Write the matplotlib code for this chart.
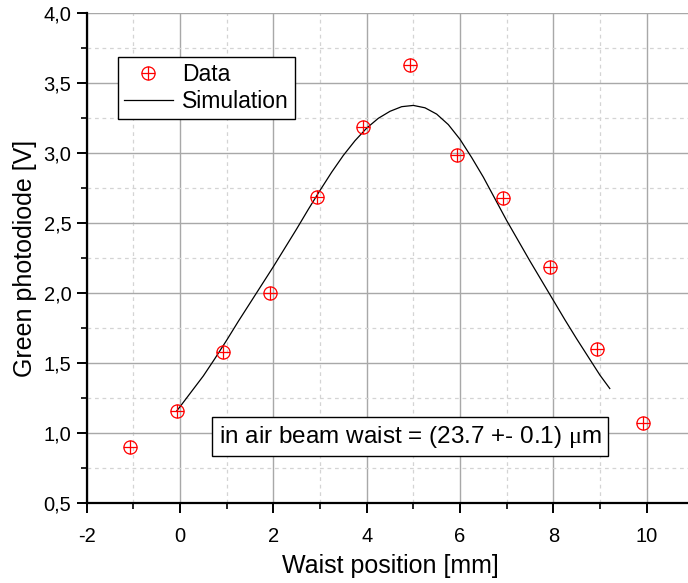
import matplotlib
matplotlib.use("Agg")
import matplotlib.pyplot as plt
from matplotlib.path import Path
from matplotlib.ticker import MultipleLocator, FuncFormatter

# Measured photodiode signal vs. waist position
data_x = [-1.07, -0.07, 0.93, 1.93, 2.93, 3.93, 4.93, 5.93, 6.93, 7.93, 8.93, 9.93]
data_y = [0.90, 1.16, 1.58, 2.00, 2.69, 3.19, 3.63, 2.99, 2.68, 2.19, 1.60, 1.07]

# Simulated curve, sampled along the waist position
sim_x = [-0.07, 0.00, 0.25, 0.50, 0.75, 1.00, 1.25, 1.50, 1.75, 2.00, 2.25, 2.50,
         2.75, 3.00, 3.25, 3.50, 3.75, 4.00, 4.25, 4.50, 4.75, 5.00, 5.25, 5.50,
         5.75, 6.00, 6.25, 6.50, 6.75, 7.00, 7.25, 7.50, 7.75, 8.00, 8.25, 8.50,
         8.75, 9.00, 9.21]
sim_y = [1.16, 1.19, 1.30, 1.41, 1.535, 1.665, 1.80, 1.93, 2.06, 2.19, 2.325, 2.46,
         2.60, 2.735, 2.865, 2.985, 3.09, 3.18, 3.25, 3.30, 3.333, 3.342, 3.325, 3.28,
         3.205, 3.10, 2.97, 2.83, 2.675, 2.52, 2.375, 2.23, 2.09, 1.95, 1.81, 1.675,
         1.545, 1.415, 1.32]

x_ticks = [-2, 0, 2, 4, 6, 8, 10]
y_ticks = [0.5, 1.0, 1.5, 2.0, 2.5, 3.0, 3.5, 4.0]

plt.rcParams["font.family"] = ["Liberation Sans", "DejaVu Sans"]
plt.rcParams["mathtext.fontset"] = "custom"
plt.rcParams["mathtext.rm"] = "Liberation Serif"

# circle with a cross inside
circ = Path.unit_circle()
cross = Path([(-1, 0), (1, 0), (0, -1), (0, 1)],
             [Path.MOVETO, Path.LINETO, Path.MOVETO, Path.LINETO])
circle_plus = Path.make_compound_path(circ, cross)

fig = plt.figure(figsize=(6.88, 5.83), dpi=100)
ax = fig.add_axes([86.7 / 688, (583 - 503.3) / 583, (693.3 - 86.7) / 688, (503.3 - 13.3) / 583])

ax.set_xlim(-2, 11)
ax.set_ylim(0.5, 4.0)
ax.xaxis.set_minor_locator(MultipleLocator(1))
ax.yaxis.set_minor_locator(MultipleLocator(0.25))
ax.set_xticks(x_ticks)
ax.set_yticks(y_ticks)
ax.xaxis.set_major_formatter(FuncFormatter(lambda v, p: f"{v:g}"))
ax.yaxis.set_major_formatter(FuncFormatter(lambda v, p: f"{v:.1f}".replace(".", ",")))

ax.grid(which="major", color="#a8a8a8", linewidth=1.0, linestyle="-")
ax.grid(which="minor", color="#d4d4d4", linewidth=0.9, linestyle=(0, (3, 3)))
ax.set_axisbelow(True)

for side in ("left", "bottom", "right"):
    ax.spines[side].set_linewidth(1.6)
ax.spines["top"].set_visible(False)

ax.tick_params(which="major", direction="out", length=7, width=1.4,
               labelsize=14.5, pad=4)
ax.tick_params(which="minor", direction="out", length=4, width=1.2)
ax.tick_params(axis="y", which="both", right=True, labelright=False)
ax.tick_params(axis="x", which="major", pad=10)

ax.plot(sim_x, sim_y, color="black", linewidth=0.9, label="Simulation", zorder=3)
ax.plot(data_x, data_y, linestyle="none", marker=circle_plus, markersize=9.5,
        markerfacecolor="none", markeredgecolor="red", markeredgewidth=0.9,
        label="Data", zorder=4)

ax.set_xlabel("Waist position [mm]", fontsize=18, labelpad=6)
ax.set_ylabel("Green photodiode [V]", fontsize=18, labelpad=5)

handles, labels = ax.get_legend_handles_labels()
leg = ax.legend(handles[::-1], labels[::-1], loc="upper left",
                bbox_to_anchor=((118 - 86.7) / 606.6, (503.3 - 57) / 490),
                fontsize=16.5, frameon=True, fancybox=False, framealpha=1,
                edgecolor="black", borderpad=0.25, handlelength=2.15,
                handletextpad=0.4, labelspacing=0.2, borderaxespad=0)
leg.get_frame().set_linewidth(1.0)

ax.text(4.93, 0.977, r"in air beam waist = (23.7 +- 0.1) $\mathrm{\mu}$m",
        ha="center", va="center", fontsize=17.5, zorder=5,
        bbox=dict(boxstyle="square,pad=0.28", facecolor="white",
                  edgecolor="black", linewidth=1.0))

fig.savefig("out.png", dpi=100)
